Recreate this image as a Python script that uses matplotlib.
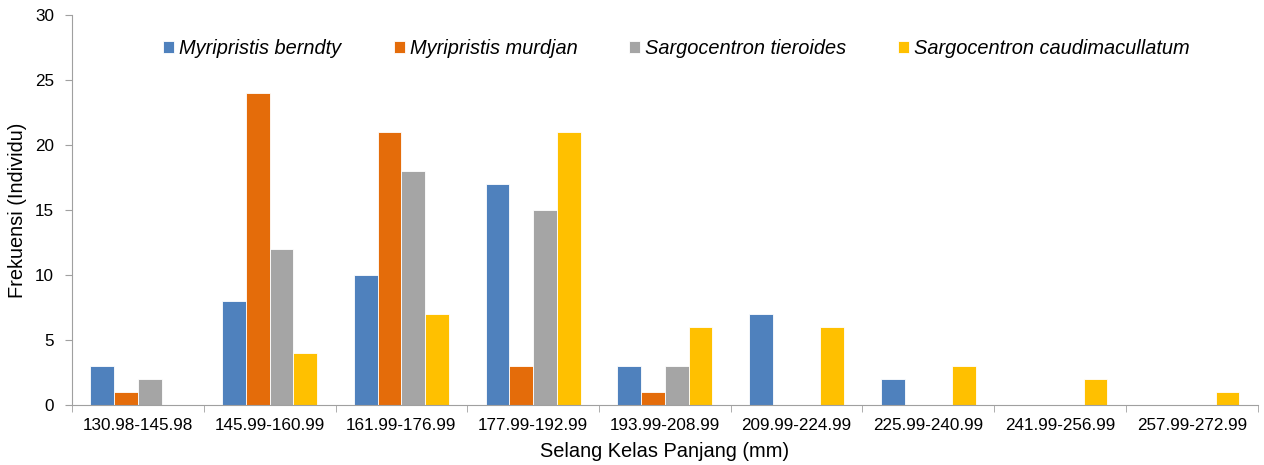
import numpy as np
import matplotlib
matplotlib.use('Agg')
import matplotlib.pyplot as plt

plt.rcParams['font.family'] = ['Liberation Sans', 'DejaVu Sans']

# data
kelas = ['130.98-145.98', '145.99-160.99', '161.99-176.99', '177.99-192.99', '193.99-208.99',
         '209.99-224.99', '225.99-240.99', '241.99-256.99', '257.99-272.99']
berndty = [3, 8, 10, 17, 3, 7, 2, 0, 0]
murdjan = [1, 24, 21, 3, 1, 0, 0, 0, 0]
tieroides = [2, 12, 18, 15, 3, 0, 0, 0, 0]
caudimacullatum = [0, 4, 7, 21, 6, 6, 3, 2, 1]

seri = [('Myripristis berndty', berndty, '#4F81BD'),
        ('Myripristis murdjan', murdjan, '#E46C0A'),
        ('Sargocentron tieroides', tieroides, '#A5A5A5'),
        ('Sargocentron caudimacullatum', caudimacullatum, '#FFC000')]

fig = plt.figure(figsize=(12.64, 4.65), dpi=100)
ax = fig.add_axes([0.057, 0.129, 0.938, 0.839])

x = np.arange(len(kelas))
w = 0.18
for i, (nama, vals, warna) in enumerate(seri):
    ax.bar(x + (i - 1.5) * w, vals, w, color=warna, edgecolor='white', linewidth=0.6, label=nama)

ax.set_xlim(-0.5, len(kelas) - 0.5)
ax.set_ylim(0, 30)
ax.set_yticks(range(0, 31, 5))
ax.set_xticks(x)
ax.set_xticklabels(kelas, fontsize=12.3)
ax.set_xticks(np.arange(-0.5, len(kelas), 1), minor=True)
ax.tick_params(axis='x', which='major', length=0, pad=9)
ax.tick_params(axis='x', which='minor', length=5, color='#A0A0A0', direction='out')
ax.tick_params(axis='y', length=5, color='#A0A0A0', labelsize=12.3, pad=8)

for s in ['top', 'right']:
    ax.spines[s].set_visible(False)
for s in ['left', 'bottom']:
    ax.spines[s].set_color('#A0A0A0')

ax.set_ylabel('Frekuensi (Individu)', fontsize=14.4, labelpad=6)
ax.set_xlabel('Selang Kelas Panjang (mm)', fontsize=14.4, labelpad=7)

leg = ax.legend(loc='upper center', bbox_to_anchor=(0.51, 0.985), ncol=4, frameon=False,
                prop={'style': 'italic', 'size': 14.4}, handlelength=0.55, handleheight=0.55,
                columnspacing=2.6, handletextpad=0.25)

fig.savefig('out.png', dpi=100)
